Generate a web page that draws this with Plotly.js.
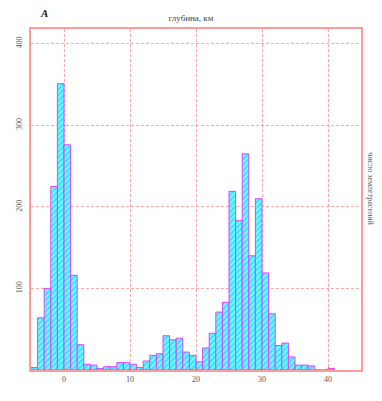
<!DOCTYPE html>
<html><head><meta charset="utf-8">
<script src="https://cdn.plot.ly/plotly-3.0.1.min.js"></script>
<style>html,body{margin:0;padding:0;background:#fff}#chart{width:382px;height:401px}</style>
</head><body><div id="chart"></div>
<script>
// bin left edges (km), 1 km bins
const binStarts = [-5,-4,-3,-2,-1,0,1,2,3,4,5,6,7,8,9,10,11,12,13,14,15,16,17,18,19,20,21,22,23,24,25,26,27,28,29,30,31,32,33,34,35,36,37,38,39,40];
const counts    = [3,64,100,225,351,276,116,31,7,6,2,4,4,9,9,7,3,11,18,20,42,37,39,22,18,10,27,45,71,83,219,183,265,140,210,119,69,30,33,16,6,6,5,0,0,2];
const xTicks = [0,10,20,30,40];
const yTicks = [100,200,300,400];
const titleText = "глубина, км";
const yTitleText = "число землетрясений";
const panelLabel = "A";

const centers = binStarts.map(b => b + 0.5);
const frame = '#ff9a9a';
const grid = '#ffa8a8';
const font = {family: 'Liberation Serif, DejaVu Serif, serif', size: 8, color: '#555'};

Plotly.newPlot('chart', [{
  type: 'bar', x: centers, y: counts, width: 1,
  marker: {
    color: '#30e8ff',
    line: {color: '#e040ff', width: 1},
    pattern: {shape: '/', fgcolor: '#ffffff', bgcolor: '#30e8ff', size: 4, solidity: 0.4, fillmode: 'overlay'}
  },
  hoverinfo: 'skip'
}], {
  width: 382, height: 401,
  margin: {l: 31, r: 21, t: 29, b: 31},
  paper_bgcolor: '#fff', plot_bgcolor: '#fff',
  showlegend: false,
  font: font,
  title: {text: titleText, x: 0.5, xanchor: 'center', y: 0.955, yanchor: 'middle', font: {family: font.family, size: 9, color: '#444'}},
  xaxis: {range: [-5, 45], tickvals: xTicks, showgrid: true, gridcolor: grid, griddash: '3px,2px', gridwidth: 1,
          showline: true, linecolor: frame, linewidth: 2, mirror: true, zeroline: false,
          ticks: 'inside', ticklen: 3, tickcolor: '#ff6688', tickfont: font},
  yaxis: {range: [0, 418], tickvals: yTicks, showgrid: true, gridcolor: grid, griddash: '3px,2px', gridwidth: 1,
          showline: true, linecolor: frame, linewidth: 2, mirror: true, zeroline: false,
          ticks: '', tickangle: -90, tickfont: font, ticklabelstandoff: 4},
  annotations: [
    {text: '<b><i>' + panelLabel + '</i></b>', xref: 'paper', yref: 'paper', x: 0.02, y: 1.047, xanchor: 'left', yanchor: 'middle', showarrow: false,
     font: {family: font.family, size: 11, color: '#222'}},
    {text: yTitleText, xref: 'paper', yref: 'paper', x: 1.03, y: 0.53, xanchor: 'center', yanchor: 'middle', textangle: 90, showarrow: false,
     font: {family: font.family, size: 8, color: '#555'}}
  ]
}, {staticPlot: true});
</script></body></html>
